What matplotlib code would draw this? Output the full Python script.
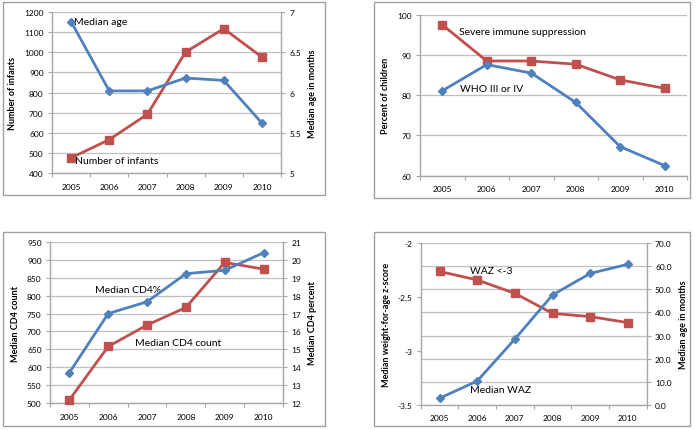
import numpy as np
import matplotlib
matplotlib.use('Agg')
import matplotlib.pyplot as plt
from matplotlib.patches import Rectangle

plt.rcParams['font.family'] = ['Lato', 'DejaVu Sans']

years = ['2005', '2006', '2007', '2008', '2009', '2010']

# panel 1
n_infants = [475, 566, 692, 1001, 1117, 976]
median_age = [6.88, 6.02, 6.02, 6.18, 6.15, 5.62]

# panel 2
severe_immune = [97.5, 88.5, 88.5, 87.7, 83.8, 81.7]
who_3_4 = [81.1, 87.6, 85.5, 78.2, 67.2, 62.5]

# panel 3
cd4_count = [509, 658, 718, 767, 893, 874]
cd4_pct = [13.7, 17.0, 17.66, 19.23, 19.42, 20.4]

# panel 4
median_waz = [-3.44, -3.28, -2.89, -2.48, -2.28, -2.195]
waz_lt3 = [57.8, 54.1, 48.3, 39.6, 38.2, 35.6]

blue = '#4F81BD'
red = '#C0504D'
gray = '#A6A6A6'
W, H = 700., 431.
tfs = 6   # tick font
afs = 7.5 # annotation font

fig = plt.figure(figsize=(7, 4.31), dpi=100)

def frame(x0, y0, x1, y1):
	fig.patches.append(Rectangle((x0/W, 1-y1/H), (x1-x0)/W, (y1-y0)/H,
		transform=fig.transFigure, fill=False, edgecolor='#A0A0A0', lw=1.0))

def axes_px(l, r, t, b):
	return fig.add_axes([l/W, 1-b/H, (r-l)/W, (b-t)/H])

def style(ax, ylim, yticks, ylabel, fmt=None, grid=True):
	x = np.arange(len(years))
	ax.set_xlim(-0.5, len(years)-0.5)
	ax.set_xticks(x)
	ax.set_xticklabels(years)
	ax.set_xticks(np.arange(-0.5, len(years), 1.0), minor=True)
	ax.tick_params(axis='x', which='major', length=0, labelsize=tfs, pad=7)
	ax.tick_params(axis='x', which='minor', length=3, color=gray, width=0.8)
	ax.set_ylim(*ylim)
	ax.set_yticks(yticks)
	if fmt:
		ax.set_yticklabels([fmt % v for v in yticks])
	ax.tick_params(axis='y', length=3, color=gray, labelsize=tfs, width=0.8, pad=3)
	for s in ['top', 'right']:
		ax.spines[s].set_visible(False)
	for s in ['left', 'bottom']:
		ax.spines[s].set_color(gray)
		ax.spines[s].set_linewidth(1.0)
	if grid:
		ax.yaxis.grid(True, color='#BFBFBF', lw=0.9)
		ax.set_axisbelow(True)
	ax.set_ylabel(ylabel, fontsize=6.5, fontweight='bold', labelpad=5)
	ax.patch.set_alpha(0)

def twin_style(ax2, ylim, yticks, ylabel, fmt=None):
	ax2.set_ylim(*ylim)
	ax2.set_yticks(yticks)
	if fmt:
		ax2.set_yticklabels([fmt % v for v in yticks])
	ax2.tick_params(axis='y', length=3, color=gray, labelsize=tfs, width=0.8, pad=3)
	for s in ['top', 'left', 'bottom']:
		ax2.spines[s].set_visible(False)
	ax2.spines['right'].set_color(gray)
	ax2.spines['right'].set_linewidth(1.0)
	ax2.set_ylabel(ylabel, fontsize=6.5, fontweight='bold', labelpad=5)

def line(ax, vals, color, marker, ms):
	ax.plot(np.arange(len(vals)), vals, color=color, lw=2.0, marker=marker,
		ms=ms, mec=color, mfc=color, zorder=3, clip_on=False)

x = np.arange(len(years))

# ---- panel 1
frame(3, 3, 325, 196)
ax1 = axes_px(52, 281, 13, 174)
style(ax1, (400, 1200), range(400, 1201, 100), 'Number of infants')
ax1b = ax1.twinx()
twin_style(ax1b, (5, 7), [5, 5.5, 6, 6.5, 7], 'Median age in months')
ax1b.set_yticklabels(['5', '5.5', '6', '6.5', '7'])
line(ax1, n_infants, red, 's', 6)
line(ax1b, median_age, blue, 'D', 4.5)
ax1.text(0.08, 1153, 'Median age', fontsize=afs, va='center', ha='left')
ax1.text(0.1, 461, 'Number of infants', fontsize=afs, va='center', ha='left')

# ---- panel 2
frame(374, 3, 690, 199)
ax2 = axes_px(420, 687, 15.7, 176.7)
style(ax2, (60, 100), range(60, 101, 10), 'Percent of children')
line(ax2, severe_immune, red, 's', 6)
line(ax2, who_3_4, blue, 'D', 4.5)
ax2.text(0.38, 95.9, 'Severe immune suppression', fontsize=afs, va='center', ha='left')
ax2.text(0.4, 81.7, 'WHO III or IV', fontsize=afs, va='center', ha='left')

# ---- panel 3
frame(3, 233, 325, 427)
ax3 = axes_px(50, 283, 243, 404)
style(ax3, (500, 950), range(500, 951, 50), 'Median CD4 count')
ax3b = ax3.twinx()
twin_style(ax3b, (12, 21), range(12, 22), 'Median CD4 percent')
line(ax3, cd4_count, red, 's', 6)
line(ax3b, cd4_pct, blue, 'D', 4.5)
ax3.text(0.67, 817, 'Median CD4%', fontsize=afs, va='center', ha='left')
ax3.text(1.69, 670, 'Median CD4 count', fontsize=afs, va='center', ha='left')

# ---- panel 4
frame(374, 233, 690, 427)
ax4 = axes_px(420.7, 646.7, 244.3, 405.7)
style(ax4, (-3.5, -2), [-3.5, -3, -2.5, -2], 'Median weight-for-age z-score', grid=False)
ax4.set_yticklabels(['-3.5', '-3', '-2.5', '-2'])
ax4b = ax4.twinx()
twin_style(ax4b, (0, 70), range(0, 71, 10), 'Median age in months', fmt='%.1f')
ax4b.yaxis.grid(True, color='#BFBFBF', lw=0.9)
ax4b.set_axisbelow(True)
line(ax4b, waz_lt3, red, 's', 6)
line(ax4, median_waz, blue, 'D', 4.5)
ax4.set_zorder(ax4b.get_zorder()+1)
ax4.text(0.8, -2.254, 'WAZ <-3', fontsize=afs, va='center', ha='left')
ax4.text(0.8, -3.36, 'Median WAZ', fontsize=afs, va='center', ha='left')

fig.savefig('out.png', dpi=100)
